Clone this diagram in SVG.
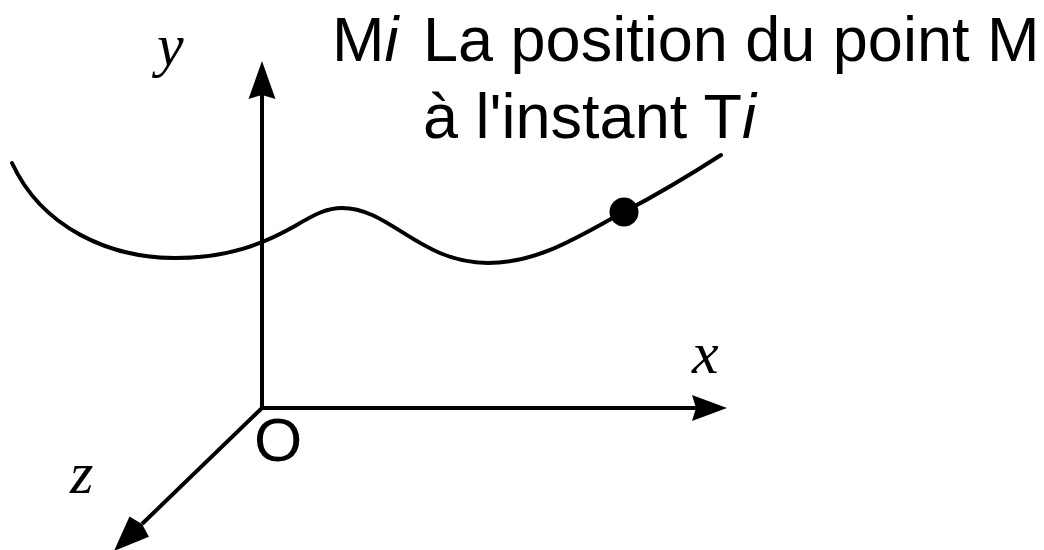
<svg xmlns="http://www.w3.org/2000/svg" width="1044" height="550" viewBox="0 0 1044 550">
<style>
.ax{stroke:#000;stroke-width:4;fill:none}
.ah{fill:#000;stroke:none}
.lbl{font-family:"Liberation Serif","Times New Roman",serif;font-style:italic;font-size:60px;fill:#000}
.sans{font-family:"Liberation Sans",Arial,sans-serif;font-size:62px;fill:#000}
.ttl{font-size:63px}
.it{font-style:italic}
</style>
<rect width="1044" height="550" fill="#fff"/>
<g id="connectors">
<path id="curve" class="ax" d="M12,163 C42,228 110,258 175,258 C230,258 265,243 295,226 C315,214 327,208 342,208 C390,208 420,263 488,263 C540,263 580,235 624,212 C660,193 690,175 721,155" stroke-linecap="round"/>
<line id="y-axis" class="ax" x1="262" y1="410" x2="262" y2="92"/>
<polygon class="ah" points="262,61 275.5,99 262,95 248.5,99"/>
<line id="x-axis" class="ax" x1="260" y1="408" x2="697" y2="408"/>
<polygon class="ah" points="727,408 692,421 696,408 692,395"/>
<line id="z-axis" class="ax" x1="263" y1="407" x2="142" y2="524"/>
<polygon class="ah" points="114,551 148.9,536.8 142,524 129.5,516.6"/>
</g>
<g id="point-Mi">
<circle cx="624" cy="212" r="14.5" fill="#000"/>
</g>
<g id="labels">
<text class="lbl" x="157" y="65">y</text>
<text class="lbl" x="692" y="373">x</text>
<text class="lbl" x="70" y="493">z</text>
<text class="sans" x="254" y="461">O</text>
<text class="sans ttl" x="332" y="61">M<tspan class="it">i</tspan><tspan x="423">La position du point M</tspan></text>
<text class="sans ttl" x="423" y="138">à l'instant T<tspan class="it">i</tspan></text>
</g>
</svg>
